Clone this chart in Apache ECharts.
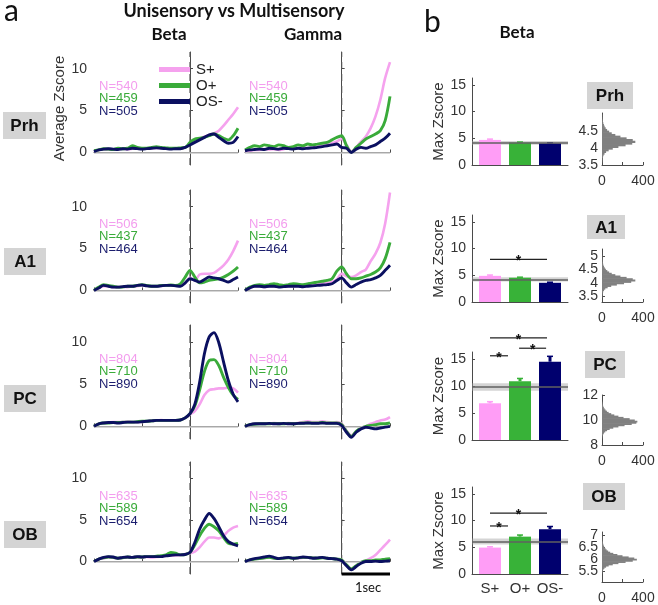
<!DOCTYPE html>
<html>
<head>
<meta charset="utf-8">
<script src="https://cdn.jsdelivr.net/npm/echarts@6/dist/echarts.min.js"></script>
<style>
html, body {margin: 0; padding: 0; background: #fff;}
#main {width: 658px; height: 605px;}
</style>
</head>
<body>
<div id="main"></div>
<script>
// ---- data ----
var regions = ['Prh', 'A1', 'PC', 'OB'];
var conds = ['S+', 'O+', 'OS-'];
var nPrh = [540, 459, 505];
var nA1 = [506, 437, 464];
var nPC = [804, 710, 890];
var nOB = [635, 589, 654];

// time (s) relative to stimulus
var times = [-2.0,-1.9,-1.8,-1.7,-1.6,-1.5,-1.4,-1.3,-1.2,-1.1,-1.0,-0.9,-0.8,-0.7,-0.6,-0.5,-0.4,-0.3,-0.2,-0.1,0.0,0.1,0.2,0.3,0.4,0.5,0.6,0.7,0.8,0.9,1.0];

// Prh
var prhBetaS  = [0.1,0.3,0.4,0.4,0.35,0.4,0.45,0.4,0.45,0.5,0.5,0.45,0.5,0.55,0.5,0.5,0.45,0.5,0.45,0.6,1.0,1.3,1.6,1.9,2.1,2.3,2.6,3.2,3.9,4.6,5.4];
var prhBetaO  = [0.2,0.3,0.45,0.4,0.35,0.5,0.45,0.5,0.8,0.6,0.5,0.5,0.6,0.7,0.6,0.55,0.5,0.5,0.55,0.6,1.2,1.6,1.7,1.8,2.0,2.2,2.0,1.7,1.5,2.0,2.9];
var prhBetaOS = [0.1,0.3,0.4,0.45,0.4,0.35,0.45,0.4,0.5,0.45,0.4,0.45,0.5,0.55,0.5,0.45,0.4,0.45,0.45,0.6,0.9,1.2,1.5,1.8,2.1,2.2,1.8,1.4,1.1,1.2,1.9];
var prhGammaS  = [0.1,0.2,0.3,0.3,0.4,0.35,0.4,0.3,0.4,0.5,0.45,0.5,0.6,0.5,0.6,0.7,0.8,0.9,1.1,1.3,1.6,0.9,0.1,0.6,1.3,1.9,2.9,4.3,6.3,8.9,10.8];
var prhGammaO  = [0.3,0.6,0.8,0.7,0.9,0.8,0.7,0.9,0.8,0.6,0.7,0.9,0.8,1.0,0.9,1.0,1.1,1.2,1.5,1.8,2.0,0.8,0.0,0.6,1.1,1.6,1.9,2.2,2.6,3.8,6.7];
var prhGammaOS = [0.2,0.3,0.35,0.4,0.35,0.5,0.45,0.4,0.5,0.45,0.4,0.5,0.45,0.5,0.55,0.6,0.7,0.8,0.9,1.0,0.6,0.5,0.0,0.4,0.6,0.5,0.7,0.9,1.3,1.7,2.3];
// A1
var a1BetaS  = [0.0,0.3,0.5,0.5,0.4,0.4,0.45,0.4,0.5,0.5,0.6,0.55,0.5,0.5,0.55,0.6,0.6,0.6,0.6,0.9,1.5,1.2,1.9,2.0,2.0,2.1,2.5,3.0,3.7,4.7,5.95];
var a1BetaO  = [0.0,0.4,0.7,0.6,0.5,0.4,0.4,0.5,0.5,0.6,0.7,0.6,0.5,0.5,0.6,0.6,0.65,0.6,0.8,1.6,2.4,1.6,0.9,1.0,1.2,1.3,1.4,1.6,1.9,2.3,2.8];
var a1BetaOS = [0.0,0.3,0.6,0.5,0.4,0.4,0.45,0.5,0.5,0.6,0.65,0.55,0.5,0.5,0.55,0.6,0.6,0.55,0.5,0.9,1.4,1.2,1.0,1.3,1.6,1.5,1.4,1.2,1.0,1.3,1.6];
var a1GammaS  = [0.0,0.3,0.5,0.5,0.4,0.5,0.5,0.45,0.5,0.5,0.5,0.55,0.5,0.6,0.7,0.7,0.8,0.9,1.0,1.3,2.0,1.7,1.6,1.8,2.2,2.5,3.5,4.4,5.7,8.0,11.7];
var a1GammaO  = [0.0,0.4,0.6,0.7,0.6,0.7,0.8,0.7,0.6,0.7,0.8,0.75,0.7,0.8,0.9,1.0,1.1,1.2,1.4,2.3,2.8,2.0,1.4,1.4,1.5,1.7,1.9,2.2,2.7,3.8,5.75];
var a1GammaOS = [0.0,0.3,0.5,0.5,0.45,0.5,0.5,0.4,0.45,0.5,0.5,0.5,0.45,0.5,0.55,0.6,0.65,0.7,0.8,1.2,1.5,0.9,0.4,0.7,1.0,1.2,1.3,1.5,1.8,2.4,3.0];
// PC
var pcBetaS  = [0.0,0.3,0.4,0.45,0.5,0.5,0.5,0.55,0.5,0.5,0.55,0.6,0.7,0.7,0.75,0.7,0.7,0.7,0.75,1.0,1.4,1.8,2.6,3.7,4.3,4.4,4.5,4.5,4.6,4.5,4.0];
var pcBetaO  = [0.0,0.3,0.4,0.4,0.45,0.45,0.5,0.5,0.5,0.55,0.6,0.6,0.65,0.7,0.7,0.7,0.7,0.7,0.75,1.0,1.5,2.4,4.3,6.5,7.8,7.9,7.2,5.8,4.6,3.7,3.2];
var pcBetaOS = [0.0,0.3,0.4,0.45,0.45,0.4,0.45,0.5,0.5,0.5,0.55,0.6,0.65,0.7,0.7,0.7,0.7,0.7,0.75,1.0,1.5,2.6,5.2,8.6,10.6,11.1,9.9,7.6,5.4,3.8,2.9];
var pcGammaS  = [0.0,0.2,0.3,0.3,0.35,0.3,0.4,0.35,0.3,0.4,0.35,0.4,0.5,0.6,0.5,0.5,0.6,0.5,0.45,0.5,0.3,-0.5,-1.1,-0.6,-0.2,0.0,0.3,0.5,0.7,0.8,1.1];
var pcGammaO  = [0.0,0.2,0.25,0.3,0.3,0.3,0.35,0.3,0.3,0.35,0.3,0.35,0.4,0.4,0.4,0.4,0.45,0.4,0.4,0.4,0.2,-0.6,-1.2,-0.6,-0.2,0.0,0.1,0.2,0.3,0.3,0.4];
var pcGammaOS = [0.0,0.2,0.3,0.3,0.3,0.35,0.3,0.3,0.35,0.3,0.3,0.35,0.35,0.4,0.35,0.35,0.4,0.35,0.35,0.35,0.1,-0.7,-1.3,-0.7,-0.3,-0.1,-0.2,-0.3,-0.2,-0.1,0.0];
// OB
var obBetaS  = [0.0,0.3,0.4,0.5,0.45,0.4,0.45,0.5,0.45,0.5,0.5,0.55,0.5,0.55,0.6,0.7,0.7,0.75,0.8,0.9,1.0,1.2,1.7,2.4,2.9,2.9,2.8,3.1,3.7,4.1,4.3];
var obBetaO  = [0.0,0.3,0.45,0.55,0.5,0.4,0.45,0.55,0.5,0.55,0.55,0.6,0.6,0.65,0.7,0.8,1.1,1.0,0.8,0.85,1.1,2.0,3.1,4.0,4.5,4.2,3.7,2.9,2.2,2.1,2.2];
var obBetaOS = [0.0,0.3,0.5,0.6,0.55,0.4,0.5,0.55,0.5,0.6,0.55,0.6,0.6,0.6,0.6,0.7,0.75,0.8,0.8,0.85,1.1,2.3,3.9,5.0,5.8,5.2,4.2,3.1,2.4,2.1,1.9];
var obGammaS  = [0.0,0.2,0.3,0.35,0.4,0.45,0.4,0.35,0.4,0.45,0.4,0.4,0.45,0.5,0.45,0.4,0.45,0.4,0.35,0.3,0.2,-0.4,-0.9,-0.5,-0.1,0.1,0.4,0.8,1.4,2.0,2.65];
var obGammaO  = [0.0,0.2,0.3,0.35,0.45,0.5,0.4,0.35,0.4,0.45,0.4,0.45,0.5,0.5,0.45,0.4,0.45,0.4,0.35,0.3,0.2,-0.4,-0.9,-0.5,-0.1,0.1,0.1,0.2,0.2,0.3,0.35];
var obGammaOS = [0.0,0.2,0.35,0.45,0.55,0.65,0.5,0.35,0.45,0.5,0.4,0.45,0.55,0.5,0.4,0.45,0.5,0.4,0.35,0.3,0.1,-0.5,-1.0,-0.6,-0.2,0.0,0.0,0.05,0.0,0.05,0.1];

// max zscore bars (S+, O+, OS-) and error bar tops
var maxPrh = [4.7, 4.2, 4.05],  errPrh = [4.85, 4.3, 4.15];
var maxA1  = [4.9, 4.55, 3.6],  errA1  = [5.05, 4.65, 3.7];
var maxPC  = [6.8, 10.9, 14.5], errPC  = [7.1, 11.4, 15.5];
var maxOB  = [4.95, 7.0, 8.4],  errOB  = [5.1, 7.3, 8.9];
// shuffled threshold (line) and its spread (band half-width)
var threshold = [4.15, 4.25, 9.8, 6.1];
var thresholdBand = [0.35, 0.4, 0.7, 0.55];
// significance brackets: [from, to, height]
var sigPrh = [];
var sigA1 = [[1.0, 2.9, 8.0]];
var sigPC = [[1.0, 2.9, 18.9], [1.97, 2.87, 17.0], [1.0, 1.6, 15.6]];
var sigOB = [[1.0, 2.9, 11.4], [1.0, 1.6, 9.0]];

// shuffle histograms
var histPrhBins = [3.6,3.65,3.7,3.75,3.8,3.85,3.9,3.95,4.0,4.05,4.1,4.15,4.2,4.25,4.3,4.35,4.4,4.45,4.5,4.55,4.6,4.65,4.7,4.75,4.8,4.85,4.9,4.95,5.0];
var histPrhCounts = [2,4,6,10,15,25,40,65,105,160,230,295,325,300,240,180,130,95,70,50,36,26,19,13,9,6,4,3,2];
var histA1Bins = [3.5,3.55,3.6,3.65,3.7,3.75,3.8,3.85,3.9,3.95,4.0,4.05,4.1,4.15,4.2,4.25,4.3,4.35,4.4,4.45,4.5,4.55,4.6,4.65,4.7,4.75,4.8,4.85,4.9,4.95,5.0,5.05,5.1];
var histA1Counts = [2,3,5,8,12,20,32,55,90,145,215,285,325,300,240,180,130,95,70,52,38,28,20,15,11,8,6,4,3,2,2,1,1];
var histPCBins = [8.6,8.7,8.8,8.9,9.0,9.1,9.2,9.3,9.4,9.5,9.6,9.7,9.8,9.9,10.0,10.1,10.2,10.3,10.4,10.5,10.6,10.7,10.8,10.9,11.0,11.1,11.2,11.3,11.4,11.5];
var histPCCounts = [2,4,7,12,20,32,50,75,110,160,220,290,335,345,320,270,210,160,120,90,65,48,35,25,18,13,9,6,4,2];
var histOBBins = [5.45,5.5,5.55,5.6,5.65,5.7,5.75,5.8,5.85,5.9,5.95,6.0,6.05,6.1,6.15,6.2,6.25,6.3,6.35,6.4,6.45,6.5,6.55,6.6,6.65,6.7,6.75,6.8,6.85,6.9,6.95,7.0,7.05,7.1];
var histOBCounts = [2,4,8,14,24,40,65,105,160,230,300,340,315,260,200,150,110,80,60,45,34,26,20,15,11,8,6,4,3,2,2,1,1,1];

// ---- layout / style ----
var lineColors = ['#F5A2EE', '#3AAB3A', '#0B1060'];
var barColors = ['#FF9DF6', '#38B238', '#00006E'];
var nColors = ['#F39DEE', '#3AAB3A', '#1B1D6E'];
var axisColor = '#4a4a4a';
var labelColor = '#333';
var fontFam = 'Liberation Sans';
var headFam = 'Lato';

var colLeft = [94, 245], colW = [144, 145];
var rowTop = [52, 190, 325, 462], rowH = [113, 113, 114, 112];
var barLeft = 472, barW = 96;
var barTop = [78, 215, 352, 487], barH = [87, 87, 88, 87];
var histLeft = 602, histW = 41;
var histTop = [113, 249, 395, 532], histH = [52, 53, 50, 53];
var histMin = [3.5, 3.3, 8, 5.05], histMax = [5.05, 5.25, 12, 7.15];
var histTicks = [[3.5, 4, 4.5], [3.5, 4, 4.5, 5], [8, 10, 12], [5.5, 6, 6.5, 7]];
var histBinW = [0.05, 0.05, 0.1, 0.05];

var lineSets = [
    [[prhBetaS, prhBetaO, prhBetaOS], [prhGammaS, prhGammaO, prhGammaOS]],
    [[a1BetaS, a1BetaO, a1BetaOS], [a1GammaS, a1GammaO, a1GammaOS]],
    [[pcBetaS, pcBetaO, pcBetaOS], [pcGammaS, pcGammaO, pcGammaOS]],
    [[obBetaS, obBetaO, obBetaOS], [obGammaS, obGammaO, obGammaOS]]
];
var nSets = [nPrh, nA1, nPC, nOB];
var maxSets = [maxPrh, maxA1, maxPC, maxOB];
var errSets = [errPrh, errA1, errPC, errOB];
var sigSets = [sigPrh, sigA1, sigPC, sigOB];
var histSets = [[histPrhBins, histPrhCounts], [histA1Bins, histA1Counts], [histPCBins, histPCCounts], [histOBBins, histOBCounts]];

var grids = [], xAxes = [], yAxes = [], series = [], graphics = [];

function addGrid(left, top, width, height) {
    grids.push({left: left, top: top, width: width, height: height});
    return grids.length - 1;
}
function addX(ax) { xAxes.push(ax); return xAxes.length - 1; }
function addY(ax) { yAxes.push(ax); return yAxes.length - 1; }
function axLine() { return {show: true, lineStyle: {color: axisColor, width: 1}}; }
function tickLabel(vals, margin, size) {
    return {customValues: vals, fontSize: size || 14, color: labelColor, fontFamily: fontFam, margin: margin,
        hideOverlap: false, showMinLabel: true, showMaxLabel: true};
}

function zip(xs, ys) {
    var out = [];
    for (var i = 0; i < xs.length; i++) out.push([xs[i], ys[i]]);
    return out;
}

for (var r = 0; r < 4; r++) {
    // --- time courses (Beta, Gamma) ---
    for (var c = 0; c < 2; c++) {
        var gi = addGrid(colLeft[c], rowTop[r], colW[c], rowH[r]);
        var xi = addX({
            gridIndex: gi, type: 'value', min: -2, max: 1, interval: 1,
            axisLine: axLine(),
            axisTick: {show: true, inside: true, length: 3, lineStyle: {color: axisColor}},
            axisLabel: {show: false}, splitLine: {show: false}
        });
        var yLab = tickLabel([0, 5, 10], 7);
        yLab.show = c === 0;
        var yi = addY({
            gridIndex: gi, type: 'value', min: -1.5, max: 12, position: 'left',
            name: (r === 0 && c === 0) ? 'Average Zscore' : '',
            nameLocation: 'middle', nameGap: 27,
            nameTextStyle: {fontSize: 15, color: labelColor, fontFamily: fontFam},
            axisLine: axLine(),
            axisTick: {show: true, inside: true, length: 3, customValues: [0, 5, 10], lineStyle: {color: axisColor}},
            axisLabel: yLab,
            splitLine: {show: false}
        });
        // zero line
        series.push({
            type: 'line', xAxisIndex: xi, yAxisIndex: yi, data: [], silent: true, z: 1,
            markLine: {
                silent: true, symbol: 'none', animation: false, label: {show: false},
                lineStyle: {color: '#c9c9c9', type: 'solid', width: 1.5},
                data: [{yAxis: 0}]
            }
        });
        // stimulus onset (dashed)
        series.push({
            type: 'line', xAxisIndex: xi, yAxisIndex: yi, data: [[0, -1.5], [0, 12]],
            symbol: 'none', silent: true, z: 2,
            lineStyle: {color: '#555', type: [7, 5], width: 1.2}
        });
        for (var k = 0; k < 3; k++) {
            series.push({
                type: 'line', name: conds[k], xAxisIndex: xi, yAxisIndex: yi,
                data: zip(times, lineSets[r][c][k]),
                showSymbol: false, symbol: 'none', smooth: 0.3,
                color: lineColors[k],
                lineStyle: {color: lineColors[k], width: k === 0 ? 2.6 : 2.9},
                z: 3 + k
            });
        }
        if (r === 3 && c === 1) {
            // 1 sec scale bar
            series.push({
                type: 'line', xAxisIndex: xi, yAxisIndex: yi, data: [[0, -1.5], [1, -1.5]],
                symbol: 'none', clip: false, silent: true,
                lineStyle: {color: '#000', width: 3}, z: 10
            });
        }
        // N labels
        for (var k2 = 0; k2 < 3; k2++) {
            graphics.push({
                type: 'text', x: colLeft[c] + (c === 0 ? 5 : 4), y: rowTop[r] + 34 + k2 * 12.7,
                style: {text: 'N=' + nSets[r][k2], fill: nColors[k2], font: '13px ' + fontFam, verticalAlign: 'middle'}
            });
        }
    }

    // --- max zscore bars ---
    var bg = addGrid(barLeft, barTop[r], barW, barH[r]);
    var xLab = tickLabel([1, 2, 3], 7, 15);
    xLab.show = r === 3;
    xLab.formatter = function (v) { return conds[Math.round(v) - 1]; };
    var bx = addX({
        gridIndex: bg, type: 'value', min: 0.4, max: 3.6,
        axisLine: axLine(), axisTick: {show: false},
        axisLabel: xLab,
        splitLine: {show: false}
    });
    var by = addY({
        gridIndex: bg, type: 'value', min: 0, max: 16.3, position: 'left',
        name: 'Max Zscore', nameLocation: 'middle', nameGap: 25,
        nameTextStyle: {fontSize: 15, color: labelColor, fontFamily: fontFam},
        axisLine: axLine(),
        axisTick: {show: true, inside: true, length: 3, customValues: [0, 5, 10, 15], lineStyle: {color: axisColor}},
        axisLabel: tickLabel([0, 5, 10, 15], 6),
        splitLine: {show: false}
    });
    var barData = [], errData = [];
    for (var b = 0; b < 3; b++) {
        barData.push({value: [b + 1, maxSets[r][b]], itemStyle: {color: barColors[b]}});
        errData.push([b + 1, maxSets[r][b], errSets[r][b], b]);
    }
    series.push({type: 'bar', xAxisIndex: bx, yAxisIndex: by, data: barData, barWidth: 22, z: 2, silent: true});
    series.push({
        type: 'custom', xAxisIndex: bx, yAxisIndex: by, data: errData, z: 3, silent: true,
        encode: {x: 0, y: [1, 2]},
        renderItem: function (params, api) {
            var p0 = api.coord([api.value(0), api.value(1)]);
            var p1 = api.coord([api.value(0), api.value(2)]);
            var col = barColors[api.value(3)];
            return {type: 'group', children: [
                {type: 'line', shape: {x1: p0[0], y1: p0[1], x2: p1[0], y2: p1[1]}, style: {stroke: col, lineWidth: 3}},
                {type: 'line', shape: {x1: p1[0] - 3, y1: p1[1], x2: p1[0] + 3, y2: p1[1]}, style: {stroke: col, lineWidth: 1.5}}
            ]};
        }
    });
    series.push({
        type: 'line', xAxisIndex: bx, yAxisIndex: by, data: [], silent: true, z: 5,
        markArea: {silent: true, itemStyle: {color: 'rgba(160,160,160,0.45)'},
            data: [[{yAxis: threshold[r] - thresholdBand[r]}, {yAxis: threshold[r] + thresholdBand[r]}]]},
        markLine: {silent: true, symbol: 'none', animation: false, label: {show: false},
            lineStyle: {color: '#606060', width: 1.5, type: 'solid'},
            data: [{yAxis: threshold[r]}]}
    });
    if (sigSets[r].length) {
        series.push({
            type: 'custom', xAxisIndex: bx, yAxisIndex: by, data: sigSets[r], z: 6, silent: true, clip: false,
            encode: {x: [0, 1], y: 2},
            renderItem: function (params, api) {
                var a = api.coord([api.value(0), api.value(2)]);
                var e = api.coord([api.value(1), api.value(2)]);
                return {type: 'group', children: [
                    {type: 'line', shape: {x1: a[0], y1: a[1], x2: e[0], y2: e[1]}, style: {stroke: '#222', lineWidth: 1.2}},
                    {type: 'text', x: (a[0] + e[0]) / 2, y: a[1] + 2,
                        style: {text: '*', fill: '#111', font: 'bold 14px ' + fontFam, align: 'center', verticalAlign: 'middle'}}
                ]};
            }
        });
    }

    // --- shuffle histogram ---
    var hg = addGrid(histLeft, histTop[r], histW, histH[r]);
    var hx = addX({
        gridIndex: hg, type: 'value', min: 0, max: 400,
        axisLine: axLine(),
        axisTick: {show: true, inside: true, length: 3, customValues: [0, 200, 400], lineStyle: {color: axisColor}},
        axisLabel: tickLabel([0, 400], 9),
        splitLine: {show: false}
    });
    // one y axis per tick label so the tightly packed labels are all kept
    var hy = -1;
    histTicks[r].forEach(function (t, j) {
        var idx = addY({
            gridIndex: hg, type: 'value', min: histMin[r], max: histMax[r],
            position: 'left', offset: 0,
            axisLine: {show: j === 0, onZero: false, lineStyle: {color: axisColor, width: 1}},
            axisTick: {show: j === 0, inside: true, length: 3, customValues: histTicks[r], lineStyle: {color: axisColor}},
            axisLabel: tickLabel([t], 4),
            splitLine: {show: false}
        });
        if (j === 0) hy = idx;
    });
    (function (bw) {
        series.push({
            type: 'custom', xAxisIndex: hx, yAxisIndex: hy, silent: true,
            data: zip(histSets[r][1], histSets[r][0]),
            encode: {x: 0, y: 1},
            renderItem: function (params, api) {
                var p0 = api.coord([0, api.value(1) + bw / 2]);
                var p1 = api.coord([api.value(0), api.value(1) - bw / 2]);
                return {type: 'rect', shape: {x: p0[0], y: p0[1], width: p1[0] - p0[0], height: p1[1] - p0[1] + 0.6},
                    style: {fill: '#808080'}};
            }
        });
    })(histBinW[r]);
}

// region boxes
var leftBoxes = [[3, 112, 43, 27], [4, 248, 42, 27], [4, 385, 42, 27], [4, 521, 42, 27]];
var rightBoxes = [[587, 82, 46, 27], [587, 215, 38, 24], [585, 351, 40, 27], [583, 483, 42, 27]];
[leftBoxes, rightBoxes].forEach(function (boxes) {
    boxes.forEach(function (bb, i) {
        graphics.push({type: 'rect', shape: {x: bb[0], y: bb[1], width: bb[2], height: bb[3]}, style: {fill: '#d4d4d4'}});
        graphics.push({type: 'text', x: bb[0] + bb[2] / 2, y: bb[1] + bb[3] / 2 + 1,
            style: {text: regions[i], fill: '#111', font: 'bold 17px ' + fontFam, align: 'center', verticalAlign: 'middle'}});
    });
});
// headings
graphics.push({type: 'text', x: 4, y: 11, style: {text: 'a', fill: '#111', font: '30px ' + headFam, verticalAlign: 'middle'}});
graphics.push({type: 'text', x: 424, y: 22, style: {text: 'b', fill: '#111', font: '30px ' + headFam, verticalAlign: 'middle'}});
graphics.push({type: 'text', x: 234, y: 11, style: {text: 'Unisensory vs Multisensory', fill: '#111', font: 'bold 18px ' + headFam, align: 'center', verticalAlign: 'middle'}});
graphics.push({type: 'text', x: 169, y: 35, style: {text: 'Beta', fill: '#111', font: 'bold 17px ' + headFam, align: 'center', verticalAlign: 'middle'}});
graphics.push({type: 'text', x: 313, y: 35, style: {text: 'Gamma', fill: '#111', font: 'bold 17px ' + headFam, align: 'center', verticalAlign: 'middle'}});
graphics.push({type: 'text', x: 517, y: 33, style: {text: 'Beta', fill: '#111', font: 'bold 17px ' + headFam, align: 'center', verticalAlign: 'middle'}});
graphics.push({type: 'text', x: 368, y: 588, style: {text: '1sec', fill: '#111', font: '13px ' + headFam, align: 'center', verticalAlign: 'middle'}});

var option = {
    animation: false,
    backgroundColor: '#fff',
    legend: {
        data: conds, orient: 'vertical', left: 154, top: 57,
        icon: 'rect', itemWidth: 31, itemHeight: 5, itemGap: 1, selectedMode: false,
        textStyle: {fontSize: 15, color: '#222', fontFamily: fontFam, lineHeight: 14, padding: [0, 0, 0, 1]}
    },
    grid: grids,
    xAxis: xAxes,
    yAxis: yAxes,
    series: series,
    graphic: graphics
};

var chart = echarts.init(document.getElementById('main'));
chart.setOption(option);
</script>
</body>
</html>
